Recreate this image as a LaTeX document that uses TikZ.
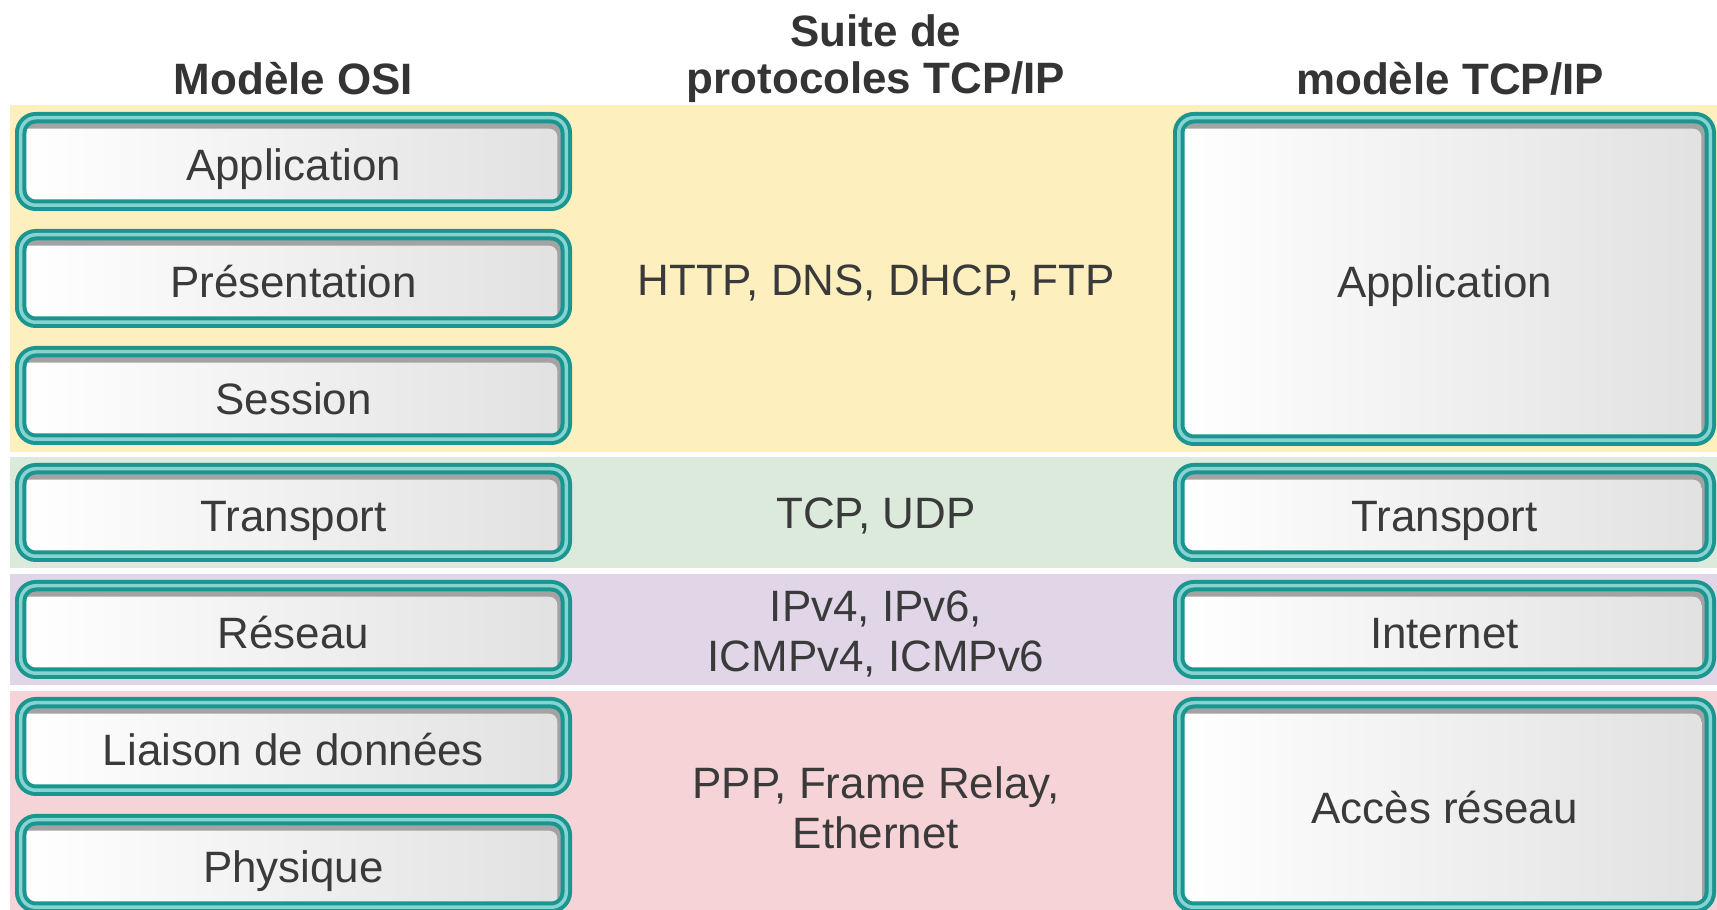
\documentclass[tikz,border=0pt]{standalone}
\usepackage{fontspec}
\setmainfont{Liberation Sans}
\definecolor{tealfonce}{HTML}{1A9590}
\definecolor{tealclair}{HTML}{86D3CF}
\definecolor{ombre}{HTML}{A3A3A3}
\definecolor{gris}{HTML}{E1E1E1}
\definecolor{texte}{HTML}{3A3A3A}
\definecolor{jaune}{HTML}{FDF0BE}
\definecolor{vert}{HTML}{DCEADB}
\definecolor{violet}{HTML}{E0D6E7}
\definecolor{rose}{HTML}{F6D3D6}
\tikzset{
	couche/.style={rectangle, inner sep=0pt, rounded corners=0.15cm, minimum height=0.875cm,
		draw=tealfonce, line width=0.04cm, double=tealclair, double distance=0.035cm, fill=ombre,
		text=texte, font=\fontsize{12.5pt}{14pt}\selectfont, text height=0.40cm, text depth=0.02cm,
		path picture={\shade[left color=white, right color=gris, rounded corners=0.08cm]
			(path picture bounding box.south west) rectangle ([xshift=-0.09cm,yshift=-0.11cm]path picture bounding box.north east);}},
	titre/.style={text=texte!90!black, font=\fontsize{12.5pt}{13.2pt}\selectfont\bfseries, align=center},
	proto/.style={text=texte, font=\fontsize{12.5pt}{14.2pt}\selectfont, align=center}
}
\begin{document}
\begin{tikzpicture}
	\useasboundingbox (0,0) rectangle (17.17,-9.10);
	\clip (0,0) rectangle (17.17,-9.10);
	\fill[jaune] (0.10,-1.05) rectangle (17.17,-4.52);
	\fill[vert] (0.10,-4.57) rectangle (17.17,-5.68);
	\fill[violet] (0.10,-5.74) rectangle (17.17,-6.85);
	\fill[rose] (0.10,-6.91) rectangle (17.17,-9.10);
	\node[titre] (t-osi) at (2.935,-0.79) {Modèle OSI};
	\node[titre] (t-suite) at (8.76,-0.585) {Suite de\\protocoles TCP/IP};
	\node[titre] (t-tcpip) at (14.50,-0.79) {modèle TCP/IP};
	\foreach \nom/\texte [count=\i] in {app/Application, pres/Présentation, sess/Session, trans/Transport, res/Réseau, liai/Liaison de données, phys/Physique}
		\node[couche, minimum width=5.455cm] (osi-\nom) at (2.935,{-1.615-1.17*(\i-1)}) {\texte};
	\node[couche, minimum width=5.315cm, minimum height=3.225cm] (tcp-app) at (14.445,-2.79) {Application};
	\node[couche, minimum width=5.315cm] (tcp-trans) at (14.445,-5.125) {Transport};
	\node[couche, minimum width=5.315cm] (tcp-inet) at (14.445,-6.295) {Internet};
	\node[couche, minimum width=5.315cm, minimum height=2.045cm] (tcp-acces) at (14.445,-8.05) {Accès réseau};
	\node[proto] (p-app) at (8.76,-2.83) {HTTP, DNS, DHCP, FTP};
	\node[proto] (p-trans) at (8.76,-5.16) {TCP, UDP};
	\node[proto] (p-inet) at (8.76,-6.34) {IPv4, IPv6,\\ICMPv4, ICMPv6};
	\node[proto] (p-acces) at (8.76,-8.08) {PPP, Frame Relay,\\Ethernet};
\end{tikzpicture}
\end{document}
